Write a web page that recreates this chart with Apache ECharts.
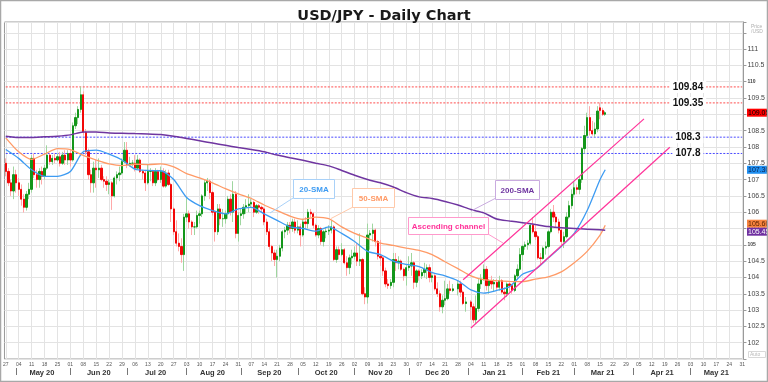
<!DOCTYPE html>
<html>
<head>
<meta charset="utf-8">
<script src="https://cdn.jsdelivr.net/npm/echarts@6.0.0/dist/echarts.min.js"></script>
<style>
html,body{margin:0;padding:0;background:#fff;}
#chart{width:768px;height:382px;}
</style>
</head>
<body>
<div id="chart"></div>
<script>
// ---------------- data ----------------
const firstDay = '2020-04-27';
const lastDay = '2021-05-31';

const opens = [
107.50,107.25,106.90,106.65,107.15, 106.90,106.70,106.40,106.15,106.55, 106.70,107.65,107.15,107.00,107.25,
107.10,107.35,107.75,107.55,107.65, 107.60,107.70,107.50,107.75,107.60, 107.80,107.60,108.65,108.90,109.15,
109.60,108.45,107.85,107.15,106.90, 107.35,107.30,107.35,107.00,106.95, 106.85,106.90,106.50,107.05,107.15,
107.20,107.55,107.90,107.45,107.50, 107.50,107.35,107.60,107.25,107.20, 106.90,107.25,107.25,106.90,107.25,
107.00,107.25,106.80,107.20,106.85, 106.10,105.40,105.05,104.95,104.70, 105.85,105.95,105.70,105.55,105.55,
105.90,105.95,106.50,106.90,106.95, 106.60,106.00,105.40,106.10,105.80, 105.80,105.95,106.40,106.00,106.55,
105.35,105.90,105.95,106.15,106.20, 106.25,106.30,106.00,106.20,106.15, 106.10,105.70,105.40,104.95,104.75,
104.55,104.65,104.90,105.40,105.45, 105.60,105.50,105.70,105.45,105.55, 105.30,105.70,105.65,106.00,105.95,
105.60,105.30,105.50,105.10,105.40, 105.42,105.45,105.55,104.55,104.85, 104.70,104.85,104.45,104.30,104.60,
104.65,104.75,104.50,104.55,103.50, 103.40,105.30,105.35,105.45,105.10, 104.65,104.60,104.20,103.80,103.75,
103.85,104.55,104.45,104.50,104.25, 104.05,104.30,104.35,104.45,103.85, 104.20,104.05,104.15,104.25,104.30,
104.00,104.05,103.65,103.50,103.10, 103.30,103.35,103.65,103.60,null, 103.65,103.80,103.55,103.20,null,
103.25,103.10,102.70,103.05,103.80, 103.95,104.25,103.75,103.90,103.80, 103.85,103.70,103.90,103.55,103.50,
103.80,103.75,103.60,104.05,104.25, 104.70,104.95,105.00,105.05,105.60, 105.40,105.25,104.60,104.58,104.90,
104.95,105.40,106.00,105.85,105.70, 105.45,105.10,105.25,105.85,106.20, 106.55,106.75,106.70,107.00,107.95,
108.35,108.90,108.50,108.40,108.55, 109.20,109.12,109.00
];
const highs = [
107.65,107.35,107.00,107.40,107.30, 107.05,106.85,106.55,106.65,106.90, 107.75,107.80,107.30,107.35,107.40,
107.45,108.05,107.80,107.75,107.80, 107.80,107.85,107.85,107.90,107.90, 107.90,108.75,109.05,109.25,109.85,
109.70,108.55,107.95,107.30,107.55, 107.60,107.65,107.45,107.10,107.10, 107.00,106.95,107.10,107.25,107.40,
107.65,108.15,108.15,107.70,107.60, 107.75,107.75,107.65,107.30,107.30, 107.45,107.35,107.30,107.35,107.30,
107.40,107.35,107.30,107.30,106.90, 106.15,105.75,105.35,105.20,105.95, 106.45,106.05,105.75,105.70,106.05,
106.05,106.55,107.00,107.05,107.00, 106.65,106.05,106.25,106.25,106.10, 106.05,106.50,106.55,106.95,106.65,
106.00,106.10,106.25,106.40,106.55, 106.40,106.35,106.25,106.25,106.20, 106.15,105.80,105.50,105.00,104.85,
104.85,105.00,105.45,105.55,105.70, 105.70,105.80,105.80,105.75,105.65, 105.80,105.85,106.10,106.10,106.00,
105.65,105.60,105.55,105.45,105.55, 105.60,105.75,105.60,104.95,104.95, 105.05,104.90,104.65,104.70,104.85,
104.95,105.05,105.35,104.60,103.70, 105.65,105.45,105.65,105.50,105.15, 105.15,104.65,104.30,103.95,103.95,
104.75,104.75,104.65,104.55,104.30, 104.40,104.65,104.75,104.50,104.25, 104.25,104.25,104.45,104.40,104.40,
104.15,104.10,103.85,103.60,103.45, 103.90,103.80,103.90,103.80,null, 103.90,103.90,103.60,103.40,null,
103.30,103.20,103.45,103.95,104.10, 104.40,104.35,103.95,104.05,103.95, 103.95,104.05,103.95,103.70,103.85,
103.85,103.80,104.10,104.40,104.90, 105.00,105.10,105.15,105.65,105.85, 105.65,105.30,104.75,104.95,105.10,
105.45,106.10,106.22,105.95,105.80, 105.50,105.40,106.00,106.35,106.70, 106.95,106.85,107.10,108.00,108.65,
109.05,109.25,108.80,108.75,109.25, 109.36,109.20,109.10
];
const lows = [
107.10,106.80,106.50,106.40,106.60, 106.50,106.20,105.99,106.05,106.40, 106.60,107.05,106.75,106.75,106.85,
107.00,107.30,107.45,107.45,107.50, 107.55,107.40,107.45,107.45,107.45, 107.40,107.55,108.55,108.70,109.05,
108.35,107.75,107.00,106.60,106.60, 106.75,107.05,106.95,106.75,106.65, 106.55,106.07,106.45,106.85,106.95,
107.15,107.50,107.35,107.40,107.40, 107.25,107.35,107.20,107.00,106.65, 106.85,106.95,106.80,106.80,106.95,
106.90,106.75,106.75,106.80,105.70, 105.30,104.95,104.80,104.45,104.20, 105.70,105.50,105.30,105.30,105.50,
105.65,105.85,106.35,106.65,106.40, 105.90,105.10,105.30,105.60,105.55, 105.65,105.80,105.90,105.70,105.20,
105.10,105.60,105.80,105.95,106.00, 106.15,105.85,105.95,105.95,106.00, 105.60,105.30,104.85,104.50,104.35,
104.00,104.50,104.80,105.20,105.30, 105.35,105.40,105.35,105.35,104.95, 105.25,105.50,105.50,105.85,105.50,
105.25,105.20,105.00,104.95,105.20, 105.30,105.35,104.50,104.45,104.55, 104.65,104.40,104.05,104.10,104.40,
104.55,104.35,104.35,103.45,103.18, 103.20,104.85,105.10,104.95,104.55, 104.35,104.05,103.70,103.65,103.65,
103.70,104.20,104.25,104.20,103.90, 103.75,104.20,104.05,103.65,103.70, 103.90,103.95,104.00,103.95,103.85,
103.85,103.60,103.40,102.95,102.90, 103.15,103.30,103.50,103.55,null, 103.45,103.40,103.15,102.95,null,
102.70,102.60,102.58,102.95,103.65, 103.90,103.60,103.50,103.65,103.55, 103.60,103.60,103.50,103.30,103.40,
103.55,103.50,103.55,103.95,104.20, 104.50,104.85,104.85,105.00,105.35, 105.15,104.55,104.40,104.55,104.70,
104.90,105.35,105.70,105.55,105.35, 104.95,104.90,105.20,105.80,106.10, 106.45,106.55,106.55,106.90,107.80,
108.30,108.35,108.35,108.30,108.45, 108.85,108.95,108.95
];
const closes = [
107.25,106.90,106.65,107.15,106.90, 106.70,106.40,106.15,106.55,106.70, 107.65,107.15,107.00,107.25,107.10,
107.35,107.75,107.55,107.65,107.60, 107.70,107.50,107.75,107.60,107.80, 107.60,108.65,108.90,109.15,109.60,
108.45,107.85,107.15,106.90,107.35, 107.30,107.35,107.00,106.95,106.85, 106.90,106.50,107.05,107.15,107.20,
107.55,107.90,107.45,107.50,107.50, 107.35,107.60,107.25,107.20,106.90, 107.25,107.25,106.90,107.25,107.00,
107.25,106.80,107.20,106.85,106.10, 105.40,105.05,104.95,104.70,105.85, 105.95,105.70,105.55,105.55,105.90,
105.95,106.50,106.90,106.95,106.60, 106.00,105.40,106.10,105.80,105.80, 105.95,106.40,106.00,106.55,105.35,
105.90,105.95,106.15,106.20,106.25, 106.30,106.00,106.20,106.15,106.10, 105.70,105.40,104.95,104.75,104.55,
104.65,104.90,105.40,105.45,105.60, 105.50,105.70,105.45,105.55,105.30, 105.70,105.65,106.00,105.95,105.60,
105.30,105.50,105.10,105.40,105.42, 105.45,105.55,104.55,104.85,104.70, 104.85,104.45,104.30,104.60,104.65,
104.75,104.50,104.55,103.50,103.40, 105.30,105.35,105.45,105.10,104.65, 104.60,104.20,103.80,103.75,103.85,
104.55,104.45,104.50,104.25,104.05, 104.30,104.35,104.45,103.85,104.20, 104.05,104.15,104.25,104.30,104.00,
104.05,103.65,103.50,103.10,103.30, 103.35,103.65,103.60,103.65,null, 103.80,103.55,103.20,103.25,null,
103.10,102.70,103.05,103.80,103.95, 104.25,103.75,103.90,103.80,103.85, 103.70,103.90,103.55,103.50,103.80,
103.75,103.60,104.05,104.25,104.70, 104.95,105.00,105.05,105.60,105.40, 105.25,104.60,104.58,104.90,104.95,
105.40,106.00,105.85,105.70,105.45, 105.10,105.25,105.85,106.20,106.55, 106.75,106.70,107.00,107.95,108.35,
108.90,108.50,108.40,108.55,109.10, 109.12,109.00,109.05
];

// moving averages read at every Monday (and the last bar)
const sma20 = [107.92,107.65,107.30,107.10,107.10,107.25,107.85,107.90,107.78,107.60,
 107.32,107.28,107.27,107.00,106.45,106.20,106.05,105.95,106.10,106.15,
 105.95,105.75,105.55,105.50,105.42,105.55,105.35,105.10,104.80,104.70,
 104.50,104.40,104.33,104.15,104.05,103.90,103.62,103.52,103.60,103.72,
 104.10,104.25,104.60,104.95,105.35,106.05,107.00,107.30];
const sma50 = [108.28,107.85,107.62,107.78,107.95,107.92,107.74,107.60,107.48,107.43,
 107.47,107.46,107.48,107.39,107.18,107.05,106.90,106.72,106.56,106.42,
 106.22,106.05,105.88,105.78,105.85,105.80,105.55,105.35,105.20,105.05,
 104.98,104.90,104.83,104.70,104.48,104.27,104.05,103.93,103.90,103.88,
 103.87,103.95,104.02,104.17,104.45,104.80,105.30,105.60];
const sma200 = [108.33,108.29,108.29,108.31,108.33,108.37,108.46,108.46,108.43,108.42,
 108.41,108.40,108.38,108.33,108.26,108.19,108.12,108.05,107.98,107.92,
 107.85,107.75,107.67,107.59,107.50,107.42,107.28,107.13,107.00,106.90,
 106.77,106.60,106.47,106.42,106.33,106.22,106.08,105.98,105.79,105.73,
 105.68,105.62,105.56,105.52,105.50,105.48,105.46,105.45];

const resistanceLevels = [109.84, 109.35];
const supportLevels = [108.3, 107.8];
const levelLabelDay = '2021-04-30';
const channelUpper = [['2020-12-30', 103.93], ['2021-04-07', 108.86]];
const channelLower = [['2021-01-04', 102.45], ['2021-04-21', 107.99]];
const yTickSmall = [110, 105];

// ---------------- build ----------------
function weekdays(a, b) {
  const out = []; let t = Date.parse(a + 'T00:00:00Z'); const e = Date.parse(b + 'T00:00:00Z');
  while (t <= e) { const d = new Date(t); const w = d.getUTCDay(); if (w > 0 && w < 6) out.push(d.toISOString().slice(0, 10)); t += 86400000; }
  return out;
}
const days = weekdays(firstDay, lastDay);
const MONTHS = ['Jan','Feb','Mar','Apr','May','Jun','Jul','Aug','Sep','Oct','Nov','Dec'];
const monthStart = new Set(), monthMid = new Set();
const starts = [];
for (let i = 1; i < days.length; i++) if (days[i].slice(5, 7) !== days[i - 1].slice(5, 7)) starts.push(i);
starts.forEach((s, k) => { monthStart.add(s); const e = k + 1 < starts.length ? starts[k + 1] : days.length; monthMid.add(Math.floor((s + e) / 2)); });

const smaIdx = []; for (let k = 0; k <= 230; k += 5) smaIdx.push(k); smaIdx.push(closes.length - 1);
const toLine = vals => vals.map((v, k) => [days[smaIdx[k]], v]);

const wick = [], body = [];
for (let i = 0; i < closes.length; i++) {
  const o = opens[i], c = closes[i], l = lows[i], h = highs[i];
  if (o == null) { wick.push(['-','-','-','-']); body.push(['-','-','-','-']); continue; }
  wick.push([o, c, l, h]);
  body.push([o, c, Math.min(o, c), Math.max(o, c)]);
}

const C = {
  up: '#13961a', down: '#f20808', upWick: '#9fd69f', downWick: '#ffa9a9',
  s20: '#3d9bf2', s50: '#ff9a66', s200: '#6f35a0', res: '#ff4d4d', sup: '#4a4aff', chan: '#ff3399', grid: '#e3e3e3'
};

const levelSeries = (v, color) => ({
  name: 'level ' + v, type: 'line', data: [[days[0], v], [days[days.length - 1], v]],
  showSymbol: false, silent: true, z: 1, color: color,
  lineStyle: { color: color, type: [2, 1.5], width: 1 }
});
const levelLabel = v => ({ coord: [levelLabelDay, v], value: v,
  label: { show: true, position: 'inside', formatter: String(v), backgroundColor: '#fff', padding: [1, 3],
    color: '#111', fontWeight: 'bold', fontSize: 10 } });

const chart = echarts.init(document.getElementById('chart'), null, { renderer: 'canvas' });
const option = {
  animation: false,
  textStyle: { fontFamily: 'Liberation Sans' },
  title: { text: 'USD/JPY - Daily Chart', left: 'center', top: 4,
    textStyle: { fontFamily: 'DejaVu Sans', fontWeight: 'bold', fontSize: 14.5, color: '#1a1a1a' } },
  grid: { left: 4, right: 21, top: 22, bottom: 23, show: true, borderColor: '#9a9a9a', borderWidth: 1 },
  xAxis: [{
    type: 'category', data: days, boundaryGap: true,
    axisLine: { show: false }, axisTick: { show: false },
    axisLabel: { interval: (i) => i % 5 === 0, formatter: v => v.slice(8, 10), fontSize: 5, color: '#555', margin: 3 },
    splitLine: { show: true, interval: (i) => i % 5 === 0, alignWithLabel: true, lineStyle: { color: C.grid, width: 1 } }
  }, {
    type: 'category', data: days, boundaryGap: true, position: 'bottom', offset: 9,
    axisLine: { show: false },
    axisTick: { show: true, interval: (i) => monthStart.has(i), alignWithLabel: true, length: 7, lineStyle: { color: '#777' } },
    axisLabel: { interval: (i) => monthMid.has(i), formatter: v => MONTHS[+v.slice(5, 7) - 1] + ' ' + v.slice(2, 4),
      fontSize: 7.5, fontWeight: 'bold', color: '#333', margin: 1 },
    splitLine: { show: false }
  }],
  yAxis: {
    type: 'value', position: 'right', min: 101.5, max: 111.83, interval: 0.5, scale: true,
    axisLine: { show: true, lineStyle: { color: '#9a9a9a' } },
    axisTick: { show: true, length: 3, lineStyle: { color: '#9a9a9a' } },
    axisLabel: {
      fontSize: 7, color: '#444', margin: 4,
      formatter: v => {
        const r = Math.round(v * 2) / 2;
        if (Math.abs(v - r) > 1e-6 || r < 102 || r > 111) return '';
        return yTickSmall.includes(r) ? '{s|' + r + '}' : String(r);
      },
      rich: { s: { fontSize: 5, fontWeight: 'bold', color: '#444' } }
    },
    splitLine: { show: true, lineStyle: { color: C.grid, width: 1 } }
  },
  series: [].concat(
    resistanceLevels.map(v => levelSeries(v, C.res)),
    supportLevels.map(v => levelSeries(v, C.sup)),
    [
    {
      name: 'wick', type: 'candlestick', data: wick, barWidth: 1,
      itemStyle: { color: C.upWick, color0: C.downWick, borderColor: C.upWick, borderColor0: C.downWick, borderWidth: 1 },
      z: 2
    },
    {
      name: 'body', type: 'candlestick', data: body, barWidth: 1.8,
      itemStyle: { color: C.up, color0: C.down, borderColor: C.up, borderColor0: C.down, borderWidth: 1 },
      z: 3
    },
    { name: '20-SMA', type: 'line', data: toLine(sma20), showSymbol: false, smooth: 0.25, lineStyle: { color: C.s20, width: 1.3 }, z: 4 },
    { name: '50-SMA', type: 'line', data: toLine(sma50), showSymbol: false, smooth: 0.25, lineStyle: { color: C.s50, width: 1.3 }, z: 4 },
    { name: '200-SMA', type: 'line', data: toLine(sma200), showSymbol: false, smooth: 0.25, lineStyle: { color: C.s200, width: 1.5 }, z: 4 },
    {
      name: 'channel', type: 'line', data: [], z: 5,
      markLine: { silent: true, symbol: ['none', 'none'], animation: false, label: { show: false },
        lineStyle: { color: C.chan, type: 'solid', width: 1.2, opacity: 1 },
        emphasis: { disabled: true },
        data: [[{ coord: channelUpper[0] }, { coord: channelUpper[1] }], [{ coord: channelLower[0] }, { coord: channelLower[1] }]] }
    },
    {
      name: 'levelLabels', type: 'line', data: [], z: 6,
      markPoint: { symbol: 'rect', symbolSize: 0, silent: true, animation: false,
        data: resistanceLevels.concat(supportLevels).map(levelLabel) }
    }
  ])
};
chart.setOption(option);

// ---------------- graphics (frame, callouts, price tags) ----------------
function box(x, y, w, h, text, stroke, color, lx1, ly1, lx2, ly2) {
  return [
    { type: 'line', z: 100, shape: { x1: lx1, y1: ly1, x2: lx2, y2: ly2 }, style: { stroke: stroke, lineWidth: 1 } },
    { type: 'rect', z: 100, shape: { x: x + 0.5, y: y + 0.5, width: w, height: h }, style: { fill: '#fff', stroke: stroke, lineWidth: 1 } },
    { type: 'text', z: 101, x: x + w / 2 + 0.5, y: y + h / 2 + 1, style: { text: text, fill: color, font: 'bold 8px "Liberation Sans"', align: 'center', verticalAlign: 'middle' } }
  ];
}
const last = closes.length - 1;
const tags = [
  { v: closes[last], fill: '#ff0000', color: '#000' },
  { v: sma20[sma20.length - 1], fill: '#1f8ff0', color: '#0b1f4a' },
  { v: sma50[sma50.length - 1], fill: '#f7843f', color: '#5a2000' },
  { v: sma200[sma200.length - 1], fill: '#6f2fa0', color: '#fff' }
].map(t => Object.assign(t, { y: chart.convertToPixel({ yAxisIndex: 0 }, t.v) }));
const sorted = tags.slice().sort((a, b) => a.y - b.y);
for (let k = 1; k < sorted.length; k++) {
  const gap = sorted[k].y - sorted[k - 1].y;
  if (gap < 8) { const d = (8 - gap) / 2; sorted[k - 1].y -= d; sorted[k].y += d; }
}
const tagEls = [];
tags.forEach(t => {
  tagEls.push({ type: 'rect', z: 110, shape: { x: 747, y: t.y - 4, width: 22, height: 8 }, style: { fill: t.fill } });
  tagEls.push({ type: 'text', z: 111, x: 748, y: t.y + 0.5, style: { text: t.v.toFixed(2), fill: t.color, font: '7px "Liberation Sans"', verticalAlign: 'middle' } });
});

const g = [].concat(
  box(293, 179, 41, 19, '20-SMA', '#a9d1f8', C.s20, 293, 198, 270, 213),
  box(352, 188, 42, 19, '50-SMA', '#ffc9a9', C.s50, 353, 207, 331, 218.5),
  box(495, 180, 44, 19, '200-SMA', '#c9abdf', C.s200, 495, 198.5, 472, 210.5),
  box(408, 217, 80, 17, 'Ascending channel', '#ff99cc', C.chan, 488, 234, 503, 243),
  tagEls,
  [
    { type: 'text', z: 100, x: 751, y: 24, style: { text: 'Price\n/USD', fill: '#b0b0b0', font: '5px "Liberation Sans"', lineHeight: 5 } },
    { type: 'rect', z: 100, shape: { x: 748.5, y: 351.5, width: 17, height: 6 }, style: { fill: '#fff', stroke: '#d8d8d8', lineWidth: 1 } },
    { type: 'text', z: 101, x: 750, y: 355, style: { text: 'Auto', fill: '#b8b8b8', font: '5px "Liberation Sans"', verticalAlign: 'middle' } },
    { type: 'rect', z: 120, shape: { x: 0.5, y: 0.5, width: 767, height: 381 }, style: { fill: 'none', stroke: '#a8a8a8', lineWidth: 1.5 } }
  ]
);
chart.setOption({ graphic: g });
</script>
</body>
</html>
